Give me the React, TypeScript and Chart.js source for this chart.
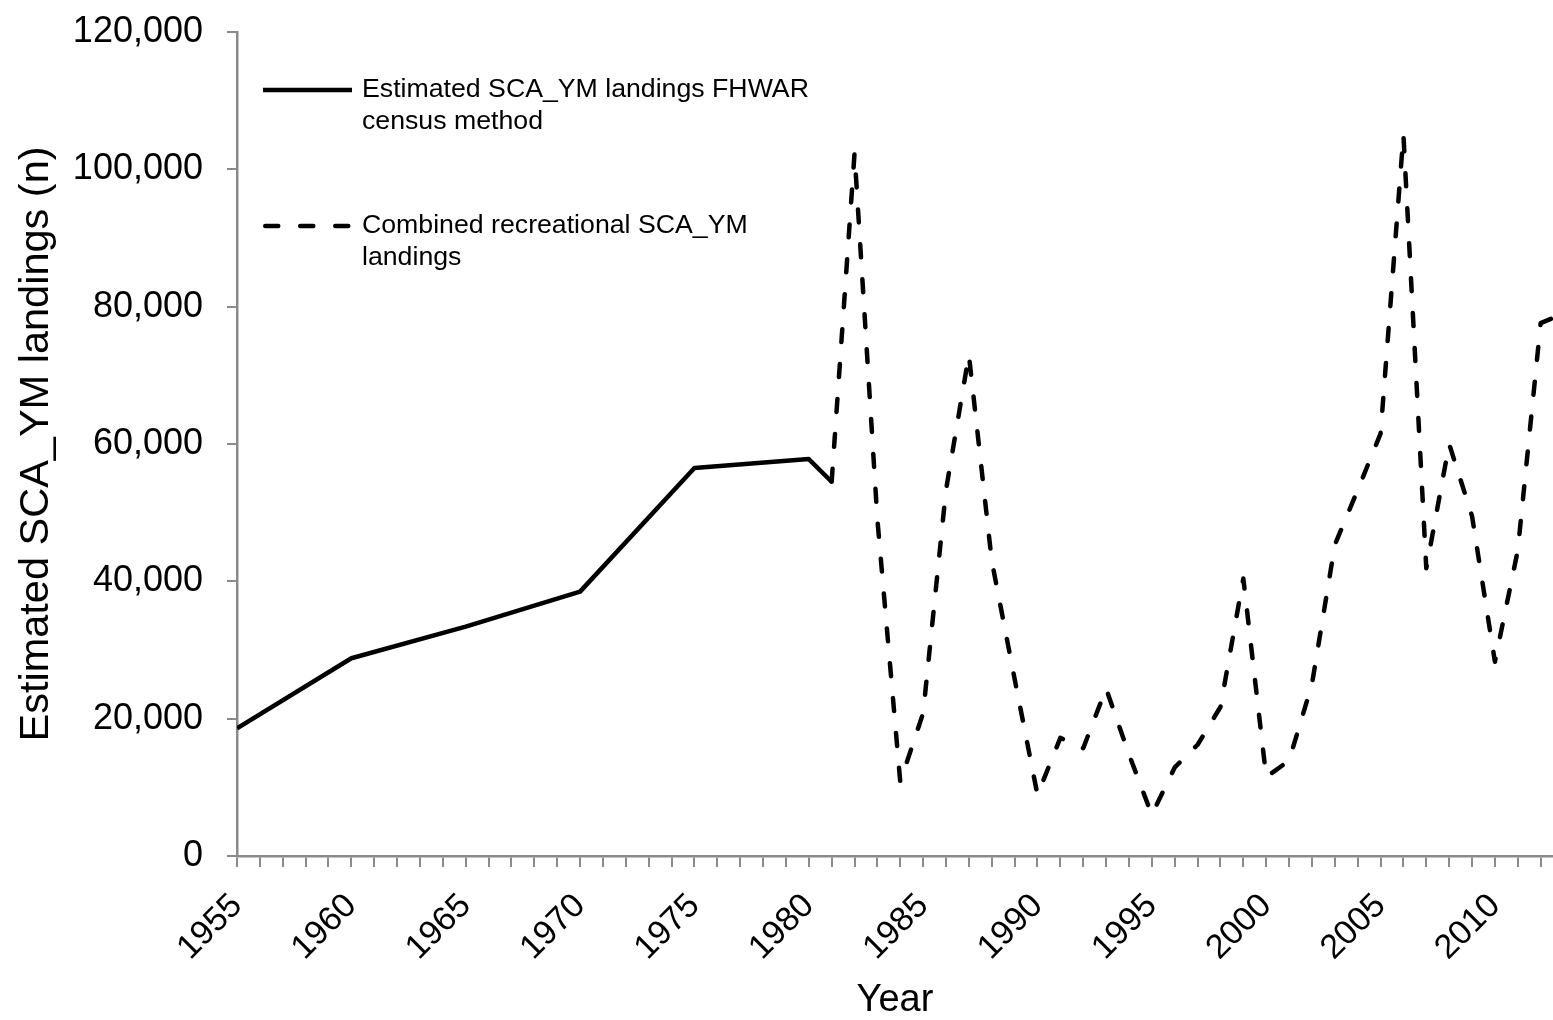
import React, { useEffect, useRef } from 'react';
import { Chart, registerables } from 'chart.js';

Chart.register(...registerables);

// ---------- data ----------
const solidYears = [1955, 1960, 1965, 1970, 1975, 1980, 1981];
const solidValues = [18600, 28800, 33400, 38500, 56500, 57800, 54500];

const dashedYears = [
  1981, 1982, 1983, 1984, 1985, 1986, 1987, 1988, 1989, 1990, 1991, 1992, 1993,
  1994, 1995, 1996, 1997, 1998, 1999, 2000, 2001, 2002, 2003, 2004, 2005, 2006,
  2007, 2008, 2009, 2010, 2011, 2012, 2013,
];
const dashedValues = [
  54500, 102300, 49000, 10800, 20800, 53300, 73000, 43000, 25800, 8900, 17200,
  15700, 24400, 14800, 6000, 12900, 16200, 21700, 40400, 11500, 13900, 25000,
  45300, 53300, 61500, 105000, 41900, 60000, 49500, 28300, 44500, 77600, 79000,
];

const seriesLabels = [
  ['Estimated SCA_YM landings FHWAR', 'census method'],
  ['Combined recreational SCA_YM', 'landings'],
];

const yTickValues = [0, 20000, 40000, 60000, 80000, 100000, 120000];
const xLabelEvery = 5;
const xTitle = 'Year';
const yTitle = 'Estimated SCA_YM landings (n)';

// ---------- styles ----------
const FONT = "'Liberation Sans', Arial, Helvetica, sans-serif";
const AXIS = '#8a8a8a';
const INK = '#000000';
const LINE_W = 4.5;
const DASH = [13, 22];

const legendPlugin = {
  id: 'customLegend',
  afterDraw(chart: any) {
    const ctx = chart.ctx as CanvasRenderingContext2D;
    const rows = [90, 226];
    const x0 = 263;
    const x1 = 352;
    const tx = 362;
    const gap = 32;
    ctx.save();
    seriesLabels.forEach((lines, i) => {
      const y = rows[i];
      ctx.beginPath();
      ctx.strokeStyle = INK;
      ctx.lineWidth = LINE_W;
      if (i === 1) {
        ctx.setLineDash(DASH);
        ctx.lineCap = 'round';
        ctx.moveTo(x0 + LINE_W / 2, y);
      } else {
        ctx.setLineDash([]);
        ctx.lineCap = 'butt';
        ctx.moveTo(x0, y);
      }
      ctx.lineTo(x1, y);
      ctx.stroke();
      ctx.setLineDash([]);
      ctx.fillStyle = INK;
      ctx.font = `26.7px ${FONT}`;
      ctx.textBaseline = 'middle';
      ctx.textAlign = 'left';
      lines.forEach((t, j) => ctx.fillText(t, tx, y + j * gap));
    });
    ctx.restore();
  },
};

export default function App() {
  const ref = useRef<HTMLCanvasElement>(null);
  useEffect(() => {
    document.body.style.margin = '0';
    const canvas = ref.current;
    if (!canvas) return;
    const chart = new Chart(canvas, {
      type: 'line',
      data: {
        datasets: [
          {
            label: seriesLabels[0].join(' '),
            data: solidYears.map((x, i) => ({ x, y: solidValues[i] })),
            borderColor: INK,
            borderWidth: LINE_W,
            pointRadius: 0,
            tension: 0,
            fill: false,
            borderJoinStyle: 'round',
            borderCapStyle: 'butt',
          },
          {
            label: seriesLabels[1].join(' '),
            data: dashedYears.map((x, i) => ({ x, y: dashedValues[i] })),
            borderColor: INK,
            borderWidth: LINE_W,
            borderDash: DASH,
            pointRadius: 0,
            tension: 0,
            fill: false,
            borderJoinStyle: 'round',
            borderCapStyle: 'round',
          },
        ],
      },
      options: {
        responsive: false,
        animation: false,
        devicePixelRatio: 1,
        layout: { padding: { top: 32, left: 0, right: 0, bottom: 0 } },
        plugins: {
          legend: { display: false },
          tooltip: { enabled: false },
        },
        scales: {
          x: {
            type: 'linear',
            min: 1955,
            max: 2012.54,
            ticks: {
              stepSize: 1,
              autoSkip: false,
              includeBounds: false,
              minRotation: 45,
              maxRotation: 45,
              padding: 19,
              color: INK,
              font: { family: FONT, size: 34 },
              callback: (v: any) => {
                const n = Math.round(Number(v));
                return n % xLabelEvery === 0 ? String(n) : '';
              },
            },
            grid: {
              drawOnChartArea: false,
              drawTicks: true,
              tickLength: 11,
              color: AXIS,
              lineWidth: 2,
            },
            border: { display: true, color: AXIS, width: 2.5 },
            title: {
              display: true,
              text: xTitle,
              color: INK,
              font: { family: FONT, size: 38, lineHeight: 1 },
              padding: 0,
            },
            afterFit: (s: any) => {
              s.height = 164;
              s.paddingLeft = 0;
              s.paddingRight = 0;
            },
          },
          y: {
            type: 'linear',
            min: 0,
            max: 120000,
            afterBuildTicks: (s: any) => {
              s.ticks = yTickValues.map((value) => ({ value }));
            },
            ticks: {
              padding: 24,
              color: INK,
              font: { family: FONT, size: 36 },
              callback: (v: any) => Number(v).toLocaleString('en-US'),
            },
            grid: {
              drawOnChartArea: false,
              drawTicks: true,
              tickLength: 10,
              color: AXIS,
              lineWidth: 2,
            },
            border: { display: true, color: AXIS, width: 2.5 },
            title: {
              display: true,
              text: yTitle,
              color: INK,
              font: { family: FONT, size: 41.5, lineHeight: 1.2 },
              padding: { top: 11.5, bottom: 0 },
            },
            afterFit: (s: any) => {
              s.width = 237;
              s.paddingTop = 0;
              s.paddingBottom = 0;
            },
          },
        },
      },
      plugins: [legendPlugin],
    });
    return () => chart.destroy();
  }, []);
  return (
    <div style={{ position: 'absolute', left: 0, top: 0, width: 1553, height: 1020 }}>
      <canvas ref={ref} width={1553} height={1020} style={{ display: 'block' }} />
    </div>
  );
}
